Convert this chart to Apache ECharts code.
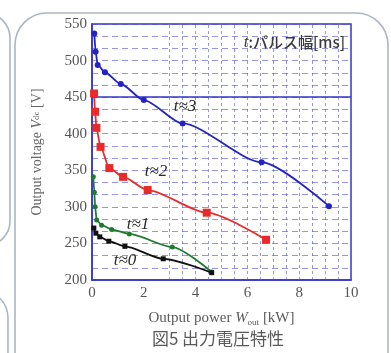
<!DOCTYPE html>
<html><head><meta charset="utf-8">
<script src="https://cdn.jsdelivr.net/npm/echarts@6/dist/echarts.min.js"></script>
<style>html,body{margin:0;padding:0;background:#fff}#c{width:391px;height:353px}</style>
</head><body><div id="c"></div>
<script>
// Output power [kW] and output voltage [V] for each pulse width t [ms]
var p_t3 = [0.09, 0.14, 0.22, 0.50, 1.11, 2.0, 3.5, 6.55, 9.15];
var v_t3 = [537, 512, 494, 484, 468, 446, 414, 361, 301];
var p_t2 = [0.08, 0.12, 0.17, 0.33, 0.67, 1.2, 2.15, 4.43, 6.72];
var v_t2 = [455, 430, 408, 382, 353, 341, 323, 292, 255];
var p_t1 = [0.05, 0.09, 0.12, 0.18, 0.37, 0.76, 1.44, 3.1, 4.62];
var v_t1 = [341, 320, 300, 282, 275, 269, 263, 245, 211];
var p_t0 = [0.07, 0.15, 0.3, 0.65, 1.27, 2.75, 4.62];
var v_t0 = [271, 264, 259, 253, 246, 229, 210];
var curveLabels = ['t≈3', 't≈2', 't≈1', 't≈0'];
var xTicks = [0, 2, 4, 6, 8, 10];
var yTicks = [200, 250, 300, 350, 400, 450, 500, 550];

function pts(p, v) { return p.map(function (x, i) { return [x, v[i]]; }); }

var chart = echarts.init(document.getElementById('c'));
var serif = '"Liberation Serif", "DejaVu Serif", serif';
var gridBlue = 'rgba(80,80,215,0.6)';

var vLines = [];
for (var g = 3; g < 10; g += 0.5) vLines.push({ xAxis: g });

function line(name, data, color, symbol, size, extra) {
  var s = {
    name: name, type: 'line', data: data, smooth: 0.25, smoothMonotone: 'x',
    symbol: symbol, symbolSize: size,
    lineStyle: { color: color, width: 1.8 },
    itemStyle: { color: color },
    z: 5
  };
  if (extra) for (var k in extra) s[k] = extra[k];
  return s;
}

chart.setOption({
  animation: false,
  backgroundColor: '#fff',
  grid: { left: 92, right: 40, top: 24, bottom: 73, show: true, borderColor: '#3434c8', borderWidth: 1.5 },
  xAxis: {
    type: 'value', min: xTicks[0], max: xTicks[xTicks.length - 1], interval: 2,
    name: 'Output power {i|W}{s|out} [kW]', nameLocation: 'middle', nameGap: 30,
    nameTextStyle: { fontFamily: serif, fontSize: 15, color: '#5a5a5a',
      rich: { i: { fontFamily: serif, fontStyle: 'italic', fontSize: 15, color: '#5a5a5a' },
              s: { fontFamily: serif, fontSize: 9, color: '#5a5a5a', verticalAlign: 'bottom', padding: [8, 0, 0, 0] } } },
    axisLine: { show: true, lineStyle: { color: '#3434c8', width: 1.5 } },
    axisTick: { show: false },
    axisLabel: { fontFamily: serif, fontSize: 15, color: '#555', margin: 6 },
    splitLine: { show: false }
  },
  yAxis: {
    type: 'value', min: yTicks[0], max: yTicks[yTicks.length - 1], interval: 50,
    name: 'Output voltage {i|V}{s|dc} [V]', nameLocation: 'middle', nameGap: 48, nameRotate: 90,
    nameTextStyle: { fontFamily: serif, fontSize: 14, color: '#666',
      rich: { i: { fontFamily: serif, fontStyle: 'italic', fontSize: 14, color: '#666' },
              s: { fontFamily: serif, fontSize: 9, color: '#666' } } },
    axisLine: { show: true, lineStyle: { color: '#3434c8', width: 1.5 } },
    axisTick: { show: false },
    axisLabel: { fontFamily: serif, fontSize: 15, color: '#555', margin: 5 },
    splitLine: { show: true, lineStyle: { color: gridBlue, type: [6, 4], width: 1 } },
    minorTick: { show: false, splitNumber: 3 },
    minorSplitLine: { show: true, lineStyle: { color: gridBlue, type: [6, 4], width: 1 } }
  },
  series: [
    line('t=3', pts(p_t3, v_t3), '#2323c4', 'circle', 6, {
      markLine: {
        silent: true, symbol: 'none', label: { show: false },
        data: vLines.map(function (d) { return Object.assign({ lineStyle: { color: gridBlue, type: [3, 3], width: 1 } }, d); })
          .concat([{ yAxis: 450, lineStyle: { color: '#3434c8', type: 'solid', width: 1.5 } }]),
        z: 1
      }
    }),
    line('t=2', pts(p_t2, v_t2), '#ea2a2a', 'rect', 8),
    line('t=1', pts(p_t1, v_t1), '#1d7a30', 'circle', 5),
    line('t=0', pts(p_t0, v_t0), '#111111', 'rect', 5)
  ],
  graphic: [
    { type: 'rect', shape: { x: 15, y: 13, width: 373, height: 420, r: 32 }, style: { fill: 'none', stroke: '#aab6c6', lineWidth: 1.6 }, z: -10 },
    { type: 'rect', shape: { x: -60, y: 13, width: 70, height: 233, r: 25 }, style: { fill: 'none', stroke: '#aab6c6', lineWidth: 1.6 }, z: -10 },
    { type: 'rect', shape: { x: -60, y: 290, width: 68, height: 200, r: 28 }, style: { fill: 'none', stroke: '#aab6c6', lineWidth: 1.6 }, z: -10 },
    { type: 'text', right: 46, top: 34, z: 20,
      style: { text: '{i|t}:パルス幅[ms]', font: '500 15px "Noto Sans CJK JP"', fill: '#3a3a3a',
        rich: { i: { fontFamily: serif, fontStyle: 'italic', fontSize: 17, fill: '#3a3a3a' } } } },
    { type: 'text', x: 185, y: 107, z: 20, style: { text: curveLabels[0], font: 'italic 17px ' + serif, fill: '#2a2a2a', align: 'center', verticalAlign: 'middle' } },
    { type: 'text', x: 156, y: 172, z: 20, style: { text: curveLabels[1], font: 'italic 17px ' + serif, fill: '#2a2a2a', align: 'center', verticalAlign: 'middle' } },
    { type: 'text', x: 138, y: 225, z: 20, style: { text: curveLabels[2], font: 'italic 17px ' + serif, fill: '#2a2a2a', align: 'center', verticalAlign: 'middle' } },
    { type: 'text', x: 125, y: 261, z: 20, style: { text: curveLabels[3], font: 'italic 17px ' + serif, fill: '#2a2a2a', align: 'center', verticalAlign: 'middle' } },
    { type: 'text', x: 218, y: 339, z: 20, style: { text: '図5 出力電圧特性', font: '17px "Noto Sans CJK JP"', fill: '#5a5a5a', align: 'center', verticalAlign: 'middle' } }
  ]
});
</script>
</body></html>
